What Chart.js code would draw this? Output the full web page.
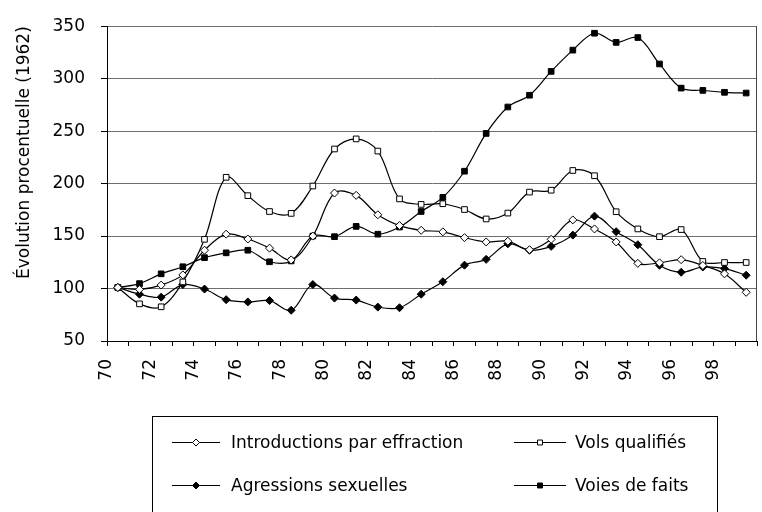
<!DOCTYPE html>
<html><head><meta charset="utf-8">
<script src="https://cdn.jsdelivr.net/npm/chart.js@4.4.1/dist/chart.umd.min.js"></script>
<style>html,body{margin:0;padding:0;background:#fff}canvas{display:block}</style>
</head><body>
<canvas id="c" width="762" height="512"></canvas>
<script>
// ---- data ----
const years = ['1970','1971','1972','1973','1974','1975','1976','1977','1978','1979',
               '1980','1981','1982','1983','1984','1985','1986','1987','1988','1989',
               '1990','1991','1992','1993','1994','1995','1996','1997','1998','1999'];
const xTickLabels = ['70','72','74','76','78','80','82','84','86','88','90','92','94','96','98'];
const yTickValues = [50, 100, 150, 200, 250, 300, 350];
const seriesNames = ['Introductions par effraction', 'Vols qualifiés', 'Agressions sexuelles', 'Voies de faits'];
const introductions = [101, 99.2, 103.3, 113, 136.5, 151.8, 147.2, 138.5, 127.3, 150,
                       191, 188.8, 170.3, 160, 155.5, 154, 148.5, 144.4, 145.1, 137,
                       146.9, 165.4, 156.8, 144.4, 124, 124.5, 127.5, 122, 114, 96.4];
const volsQualifies = [101, 85.4, 82.6, 106.3, 146.9, 206, 188.5, 173.4, 171.6, 197.7,
                       233, 242.6, 231, 185.4, 180.2, 180.8, 175.3, 166.3, 171.9, 191.9,
                       193.7, 212.5, 207.5, 173.2, 156.8, 149.4, 156.2, 125.8, 124.8, 124.8];
const agressionsSexuelles = [101, 94.6, 91.8, 103.8, 99.5, 89.4, 87.2, 88.5, 79.3, 103.8,
                             90.9, 89, 82.3, 81.7, 94.6, 106.5, 122.3, 127.8, 142.6, 136.5,
                             140.2, 150.9, 169, 154.2, 141.7, 122.2, 115.5, 120.5, 119, 112.7];
const voiesDeFaits = [101, 104.7, 114, 120.8, 129.4, 134, 136.5, 125.5, 126.3, 150,
                      149.4, 159.2, 151.8, 158.6, 173.4, 186.9, 211.8, 247.8, 273, 284.2,
                      306.9, 327.2, 343.3, 334.6, 339.2, 314, 291, 288.8, 287, 286.3];
const yTitle = 'Évolution procentuelle (1962)';

// points sit in the middle of each year
const toPoints = vals => vals.map((v, i) => ({ x: Number(years[i]) - 1900 + 0.5, y: v }));

const FONT = "'DejaVu Sans', sans-serif";

function ds(label, vals, style, filled) {
  return {
    label, data: toPoints(vals),
    borderColor: '#000', borderWidth: 1.2, tension: 0.35,
    pointStyle: style, pointRadius: 4, pointHoverRadius: 4,
    pointBackgroundColor: filled ? '#000' : '#fff',
    pointBorderColor: '#000', pointBorderWidth: 1, fill: false
  };
}

const frame = {
  id: 'frame',
  afterDatasetsDraw(chart) {
    const { ctx, chartArea: a } = chart;
    ctx.save();
    ctx.strokeStyle = '#444';
    ctx.lineWidth = 1;
    ctx.beginPath();
    ctx.moveTo(Math.round(a.right) - 0.5, a.top);
    ctx.lineTo(Math.round(a.right) - 0.5, a.bottom);
    ctx.stroke();
    ctx.restore();
  }
};

const boxLegend = {
  id: 'boxLegend',
  afterDraw(chart) {
    const { ctx } = chart;
    ctx.save();
    ctx.strokeStyle = '#000';
    ctx.lineWidth = 1;
    ctx.strokeRect(152.5, 416.5, 565, 130);
    ctx.font = '17px ' + FONT;
    ctx.textBaseline = 'middle';
    chart.data.datasets.forEach((d, i) => {
      const col = i % 2, row = Math.floor(i / 2);
      const x0 = col ? 514 : 172, x1 = col ? 566 : 220;
      const y = (row ? 485 : 442) + 0.5;
      ctx.beginPath();
      ctx.strokeStyle = '#000';
      ctx.lineWidth = 1;
      ctx.moveTo(x0, y); ctx.lineTo(x1, y); ctx.stroke();
      ctx.fillStyle = d.pointBackgroundColor;
      ctx.strokeStyle = '#000';
      ctx.lineWidth = 1;
      Chart.helpers.drawPoint(ctx, { pointStyle: d.pointStyle, radius: 3.5, rotation: 0, borderWidth: 1 }, (x0 + x1) / 2, y);
      ctx.fillStyle = '#000';
      ctx.fillText(d.label, col ? 575 : 231, y + 1);
    });
    ctx.restore();
  }
};

new Chart(document.getElementById('c'), {
  type: 'line',
  data: {
    datasets: [
      ds(seriesNames[0], introductions, 'rectRot', false),
      ds(seriesNames[1], volsQualifies, 'rect', false),
      ds(seriesNames[2], agressionsSexuelles, 'rectRot', true),
      ds(seriesNames[3], voiesDeFaits, 'rect', true)
    ]
  },
  options: {
    responsive: false,
    animation: false,
    layout: { padding: { top: 16, right: 1, left: 0, bottom: 130 } },
    plugins: { legend: { display: false }, tooltip: { enabled: false } },
    scales: {
      x: {
        type: 'linear', min: 70, max: 100,
        afterFit(s) { s.height = 41; s.paddingLeft = 0; s.paddingRight = 0; },
        ticks: {
          stepSize: 1, autoSkip: false, maxRotation: 90, minRotation: 90,
          padding: 13, color: '#000', font: { family: FONT, size: 17 },
          callback: v => xTickLabels.includes(String(v)) ? String(v) : ''
        },
        grid: { drawOnChartArea: false, drawTicks: true, tickLength: 5, color: '#000' },
        border: { display: true, color: '#000', width: 1 }
      },
      y: {
        min: yTickValues[0], max: yTickValues[yTickValues.length - 1],
        afterFit(s) { s.width = 107; },
        afterBuildTicks(s) { s.ticks = yTickValues.map(v => ({ value: v })); },
        ticks: { padding: 16, color: '#000', font: { family: FONT, size: 17 } },
        grid: { color: '#6e6e6e', lineWidth: 1, tickLength: 6, tickColor: '#000' },
        border: { display: true, color: '#000', width: 1 },
        title: {
          display: true, text: yTitle, align: 'end', color: '#000',
          font: { family: FONT, size: 17 }, padding: { top: 14, bottom: 0 }
        }
      }
    }
  },
  plugins: [frame, boxLegend]
});
</script>
</body></html>
